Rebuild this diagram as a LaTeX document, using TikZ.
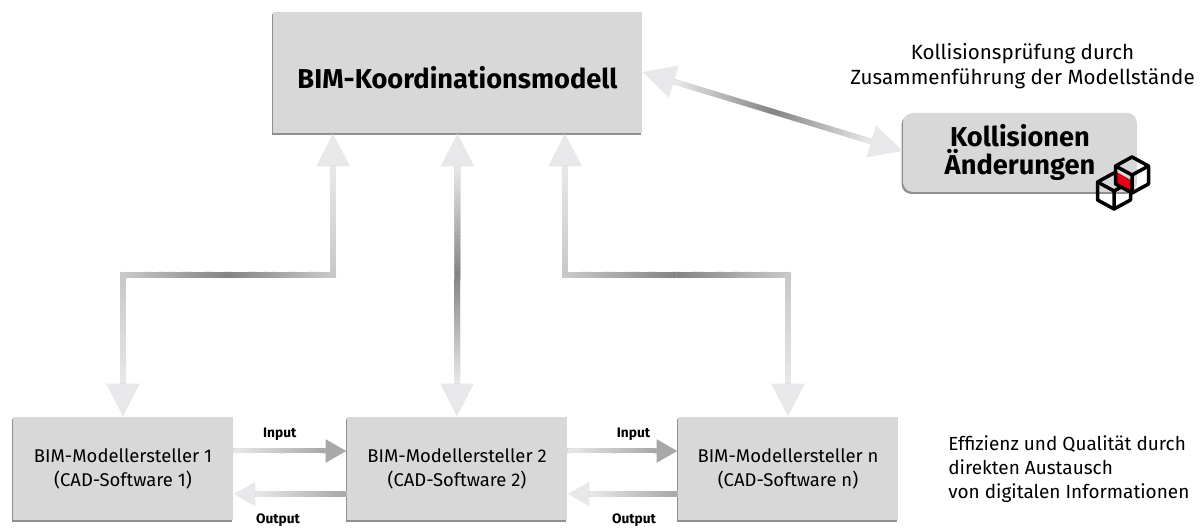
\documentclass[tikz,border=0pt]{standalone}
\usepackage{fontspec}
\setmainfont{Fira Sans}
\usepackage{xcolor}
\usepackage{tikz}
\usetikzlibrary{arrows.meta,positioning,shadows,calc}

\definecolor{boxgrey}{HTML}{D8D8D8}
\definecolor{tiplight}{HTML}{E8E8EA}
\definecolor{shaftmid}{HTML}{C8C8CA}
\definecolor{shaftdark}{HTML}{858585}
\definecolor{tipdark}{HTML}{A8A8A8}
\definecolor{cubered}{HTML}{E30018}

% shaft of a connector, fading from #3 at (#1) to #4 at (#2)
\newcommand{\fadeline}[5][.12cm]{%
  \foreach \i in {0,...,29} {
    \pgfmathtruncatemacro{\share}{100*\i/29}
    \pgfmathsetmacro{\tb}{min(1,(\i+1.3)/30)}
    \pgfmathsetmacro{\ta}{\i/30}
    \draw[line width=#1, color=#5!\share!#4] ($(#2)!\ta!(#3)$) -- ($(#2)!\tb!(#3)$);
  }
}

\begin{document}
\begin{tikzpicture}[
  box/.style={rectangle, fill=boxgrey, minimum width=4.4cm, minimum height=2.06cm, font=\fontsize{10.5}{13.6}\selectfont, align=center,
    drop shadow={shadow xshift=-.03cm, shadow yshift=-.04cm, opacity=.55, fill=black!80}},
  biglink/.style={line width=.12cm, shaftmid, {Triangle[width=.64cm, length=.66cm, color=tiplight, fill=tiplight]}-{Triangle[width=.64cm, length=.66cm, color=tiplight, fill=tiplight]}},
  inlink/.style={line width=.1cm, shaftmid, -{Triangle[width=.44cm, length=.42cm, color=tipdark, fill=tipdark]}},
  outlink/.style={line width=.1cm, shaftmid, -{Triangle[width=.46cm, length=.44cm, color=tiplight, fill=tiplight]}},
  flowlabel/.style={font=\fontsize{7.8}{9}\selectfont\bfseries, text=black},
  cube/.pic={
    \draw[line width=.07cm, line join=round] (0,.36) -- (.33,.18) -- (.33,-.18) -- (0,-.36) -- (-.33,-.18) -- (-.33,.18) -- cycle;
    \draw[line width=.07cm, line join=round] (-.33,.18) -- (0,0) -- (.33,.18) (0,0) -- (0,-.36);
  }
]
\useasboundingbox (0,0) rectangle (24,10.54);

% Central model
\node[box, minimum width=7.38cm, minimum height=2.42cm, font=\fontsize{15.5}{18}\selectfont\bfseries] (koord) at (9.15,9.09) {\raisebox{-.33cm}[0pt][0pt]{BIM-Koordinationsmodell}};

% Collisions
\node[box, rounded corners=.2cm, minimum width=4.68cm, minimum height=1.58cm, font=\fontsize{15.5}{16.2}\selectfont\bfseries] (koll) at (20.4,7.49) {Kollisionen\\Änderungen};
\node[font=\fontsize{11.7}{14.2}\selectfont, align=center] (pruef) at (20.45,9.21) {Kollisionsprüfung durch\\Zusammenführung der Modellstände};

% Authors
\node[box] (mod1) at (2.46,1.17) {BIM-Modellersteller 1\\(CAD-Software 1)};
\node[box] (mod2) at (9.14,1.17) {BIM-Modellersteller 2\\(CAD-Software 2)};
\node[box] (modn) at (15.76,1.17) {BIM-Modellersteller n\\(CAD-Software n)};
\node[font=\fontsize{10.8}{13.6}\selectfont, align=left, anchor=west, inner xsep=0pt] (effi) at (18.96,1.16) {Effizienz und Qualität durch\\direkten Austausch\\von digitalen Informationen};

% Corners of the long connectors
\coordinate (top1) at (koord.south -| 6.66,0);
\coordinate (bend1a) at (6.66,5.04);
\coordinate (bend1b) at (mod1.north |- bend1a);
\coordinate (topn) at (koord.south -| 11.3,0);
\coordinate (bendna) at (11.3,5.04);
\coordinate (bendnb) at (modn.north |- bendna);

% Long connectors
\draw[biglink] (mod1.north) -- (bend1b) -- (bend1a) -- (top1);
\draw[biglink] (mod2.north) -- (koord.south);
\draw[biglink] (modn.north) -- (bendnb) -- (bendna) -- (topn);
\draw[biglink, line width=.11cm] (koord.east |- 0,9.1) coordinate (koordr) -- (koll.west |- 0,7.52) coordinate (kollr);

% Gradients on the shafts
\coordinate (bar1) at ($(top1)+(0,-.66)$);
\coordinate (bar1low) at ($(mod1.north)+(0,.66)$);
\coordinate (mid1) at ($(bend1a)!.5!(bend1b)$);
\fadeline{bar1}{bend1a}{tiplight}{shaftmid}
\fadeline{bend1a}{mid1}{shaftmid}{shaftdark}
\fadeline{mid1}{bend1b}{shaftdark}{shaftmid}
\fadeline{bend1b}{bar1low}{shaftmid}{tiplight}

\coordinate (bar2) at ($(koord.south)+(0,-.66)$);
\coordinate (bar2low) at ($(mod2.north)+(0,.66)$);
\coordinate (mid2) at ($(bar2)!.5!(bar2low)$);
\fadeline{bar2}{mid2}{tiplight}{shaftdark}
\fadeline{mid2}{bar2low}{shaftdark}{tiplight}

\coordinate (barn) at ($(topn)+(0,-.66)$);
\coordinate (barnlow) at ($(modn.north)+(0,.66)$);
\coordinate (midn) at ($(bendna)!.5!(bendnb)$);
\fadeline{barn}{bendna}{tiplight}{shaftmid}
\fadeline{bendna}{midn}{shaftmid}{shaftdark}
\fadeline{midn}{bendnb}{shaftdark}{shaftmid}
\fadeline{bendnb}{barnlow}{shaftmid}{tiplight}

\coordinate (diaga) at ($(koordr)!.66cm!(kollr)$);
\coordinate (diagb) at ($(kollr)!.66cm!(koordr)$);
\coordinate (diagm) at ($(diaga)!.5!(diagb)$);
\fadeline[.11cm]{diaga}{diagm}{tiplight}{shaftdark}
\fadeline[.11cm]{diagm}{diagb}{shaftdark}{tiplight}

% Input and output arrows
\draw[inlink] ([yshift=.35cm]mod1.east) -- node[flowlabel, pos=.41, above=.04cm] (in1) {Input} ([yshift=.35cm]mod2.west);
\draw[outlink] ([yshift=-.51cm]mod2.west) -- ([yshift=-.51cm]mod1.east);
\draw[inlink] ([yshift=.35cm]mod2.east) -- node[flowlabel, pos=.6, above=.04cm] (in2) {Input} ([yshift=.35cm]modn.west);
\draw[outlink] ([yshift=-.51cm]modn.west) -- ([yshift=-.51cm]mod2.east);
\node[flowlabel, inner ysep=0pt] (out1) at (5.56,.14) {Output};
\node[flowlabel, inner ysep=0pt] (out2) at (12.68,.14) {Output};

\fadeline[.1cm]{$(mod1.east)+(0,.35)$}{$(mod2.west)+(-.42,.35)$}{tiplight}{tipdark}
\fadeline[.1cm]{$(mod2.east)+(0,.35)$}{$(modn.west)+(-.42,.35)$}{tiplight}{tipdark}
\fadeline[.1cm]{$(mod2.west)+(0,-.51)$}{$(mod1.east)+(.44,-.51)$}{tipdark}{tiplight}
\fadeline[.1cm]{$(modn.west)+(0,-.51)$}{$(mod2.east)+(.44,-.51)$}{tipdark}{tiplight}

% Cube icon
\pic at (22.28,6.72) {cube};
\fill[cubered] (22.33,7.1) -- (22.64,6.92) -- (22.64,6.68) -- (22.33,6.84) -- cycle;
\pic at (22.64,7.04) {cube};

\end{tikzpicture}
\end{document}
